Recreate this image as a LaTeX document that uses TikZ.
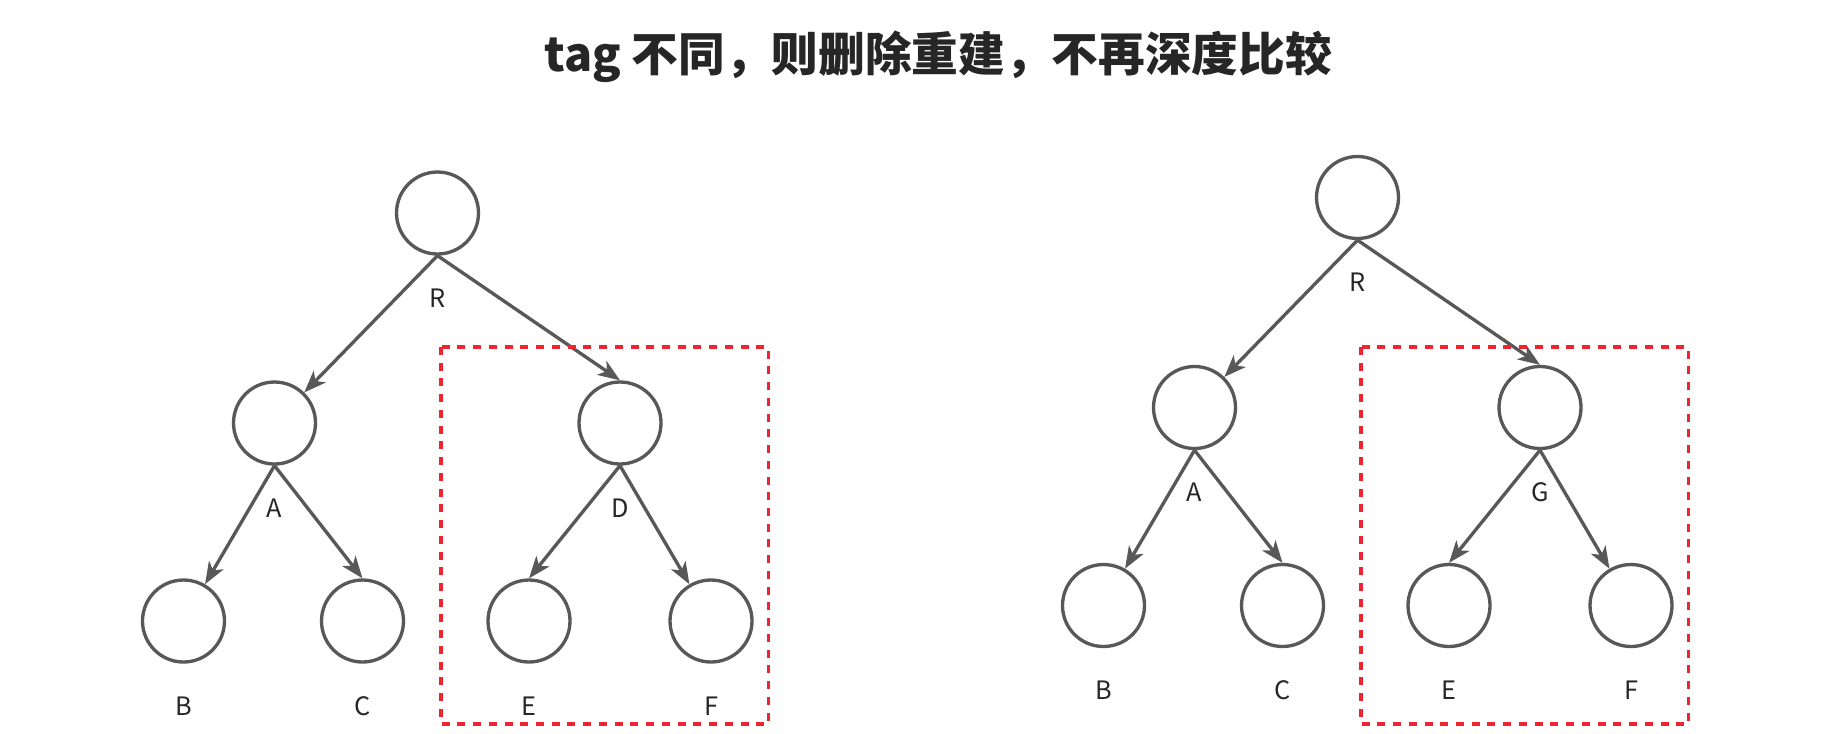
\documentclass[tikz,border=0pt]{standalone}
\usepackage{fontspec}
\setmainfont{Noto Sans CJK SC}
\newfontfamily\cjk{Noto Sans CJK SC}
\usepackage{tikz}
\usetikzlibrary{arrows.meta}

\definecolor{treegray}{RGB}{88,88,88}
\definecolor{boxred}{RGB}{240,36,48}

\tikzset{
  vnode/.style={circle, draw=treegray, line width=2.5pt, minimum size=61.5pt, inner sep=0pt},
  lbl/.style={text=black!85, font=\fontsize{19}{19}\selectfont, inner sep=0pt},
  arr/.style={draw=treegray, line width=2.5pt, -{Stealth[length=16.5pt,width=12.5pt,inset=4.5pt]}},
  redbox/.style={draw=boxred, line width=2.5pt, dash pattern=on 6pt off 5.8pt}
}

\begin{document}
\begin{tikzpicture}[x=0.75pt,y=-0.75pt]
    \useasboundingbox (0,0) rectangle (1826,733);
    \node[font=\cjk\bfseries\fontsize{35}{35}\selectfont, text=black!85] (title) at (938,57) {tag 不同，则删除重建，不再深度比较};
    % left tree = old, right tree = new
    \foreach \dx/\dy/\m/\s in {0/0/D/l, 920/-15.5/G/r} {
        \node[vnode] (\s R) at (437.5+\dx,213+\dy) {};
        \node[vnode] (\s A) at (274.5+\dx,423+\dy) {};
        \node[vnode] (\s M) at (620+\dx,423+\dy) {};
        \node[vnode] (\s B) at (183.5+\dx,621+\dy) {};
        \node[vnode] (\s C) at (362.5+\dx,621+\dy) {};
        \node[vnode] (\s E) at (529+\dx,621+\dy) {};
        \node[vnode] (\s F) at (711+\dx,621+\dy) {};
        \node[lbl] (\s lR) at (437.5+\dx,298+\dy) {R};
        \node[lbl] (\s lA) at (274.5+\dx,508+\dy) {A};
        \node[lbl] (\s lM) at (620+\dx,508+\dy) {\m};
        \node[lbl] (\s lB) at (183.5+\dx,706+\dy) {B};
        \node[lbl] (\s lC) at (362.5+\dx,706+\dy) {C};
        \node[lbl] (\s lE) at (529+\dx,706+\dy) {E};
        \node[lbl] (\s lF) at (711+\dx,706+\dy) {F};
        \draw[arr] (\s R.south) -- (\s A);
        \draw[arr] (\s R.south) -- (\s M.north);
        \draw[arr] (\s A.south) -- (\s B);
        \draw[arr] (\s A.south) -- (\s C.north);
        \draw[arr] (\s M.south) -- (\s E.north);
        \draw[arr] (\s M.south) -- (\s F);
        \draw[redbox] (441+\dx,347) rectangle (768.5+\dx,724);
    }
\end{tikzpicture}
\end{document}
